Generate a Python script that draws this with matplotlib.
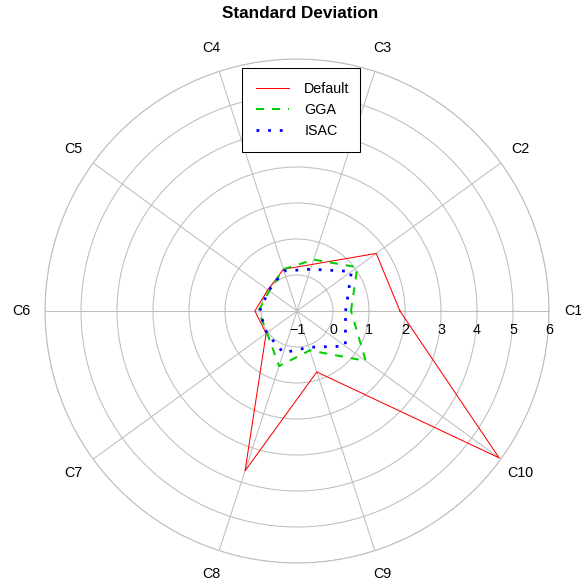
import numpy as np
import matplotlib
matplotlib.use("Agg")
import matplotlib.pyplot as plt
from matplotlib.transforms import offset_copy

plt.rcParams['font.family'] = ['Liberation Sans', 'DejaVu Sans']

categories = ["C1", "C2", "C3", "C4", "C5", "C6", "C7", "C8", "C9", "C10"]
default_vals = [1.86, 1.72, 0.36, 0.22, 0.00, 0.17, 0.06, 3.67, 0.78, 5.94]
gga_vals = [0.50, 1.07, 0.50, 0.22, -0.05, 0.07, 0.03, 0.61, 0.15, 1.36]
isac_vals = [0.35, 0.87, 0.22, 0.17, -0.03, 0.04, 0.04, 0.22, 0.06, 0.66]
radial_ticks = [-1, 0, 1, 2, 3, 4, 5, 6]
title = "Standard Deviation"

W, H = 581, 587
fig = plt.figure(figsize=(W / 100, H / 100), dpi=100)
cx, cy, R = 297, 311, 252
ax = fig.add_axes([(cx - R) / W, (H - cy - R) / H, 2 * R / W, 2 * R / H], projection='polar')
ax.set_ylim(radial_ticks[0], radial_ticks[-1])

n = len(categories)
theta = np.deg2rad(np.arange(n) * 360.0 / n)
grid_col = '#bebebe'
ax.set_rgrids(radial_ticks[1:], labels=[''] * (len(radial_ticks) - 1))
ax.set_thetagrids(np.rad2deg(theta), labels=[''] * n)
ax.grid(True, color=grid_col, lw=0.75, ls='-')
ax.spines['polar'].set_color(grid_col)
ax.spines['polar'].set_linewidth(0.75)
ax.tick_params(length=0)

def closed(v):
    return np.append(theta, theta[0]), np.append(v, v[0])

t, r = closed(default_vals)
ax.plot(t, r, color='red', lw=0.75, label='Default', zorder=5)
t, r = closed(gga_vals)
ax.plot(t, r, color='#00cd00', lw=1.44, ls=(0, (4, 4)), label='GGA', zorder=5, dash_capstyle='butt')
t, r = closed(isac_vals)
ax.plot(t, r, color='blue', lw=2.0, ls=(0, (1, 3.2)), label='ISAC', zorder=5, dash_capstyle='butt')

fs = 10.3
for th, c in zip(theta, categories):
    ax.text(th, 6.67, c, ha='center', va='center', fontsize=fs, clip_on=False)
trans = offset_copy(ax.transData, fig=fig, x=0, y=-19, units='dots')
for v in radial_ticks:
    lab = str(v).replace('-', '\u2212')
    ax.text(0, v, lab, ha='center', va='center', fontsize=fs, transform=trans, clip_on=False)

fig.text(300 / W, 1 - 14 / H, title, ha='center', va='center', fontsize=12.3, fontweight='bold')

leg = fig.legend(loc='upper left', bbox_to_anchor=(242 / W, 1 - 152 / H, 118 / W, 84 / H),
                 mode='expand', borderaxespad=0, fancybox=False, framealpha=1,
                 edgecolor='black', fontsize=fs, handlelength=2.3, handletextpad=1.05,
                 borderpad=1.0, labelspacing=0.48)
leg.get_frame().set_linewidth(0.75)

fig.savefig('out.png', dpi=100)
